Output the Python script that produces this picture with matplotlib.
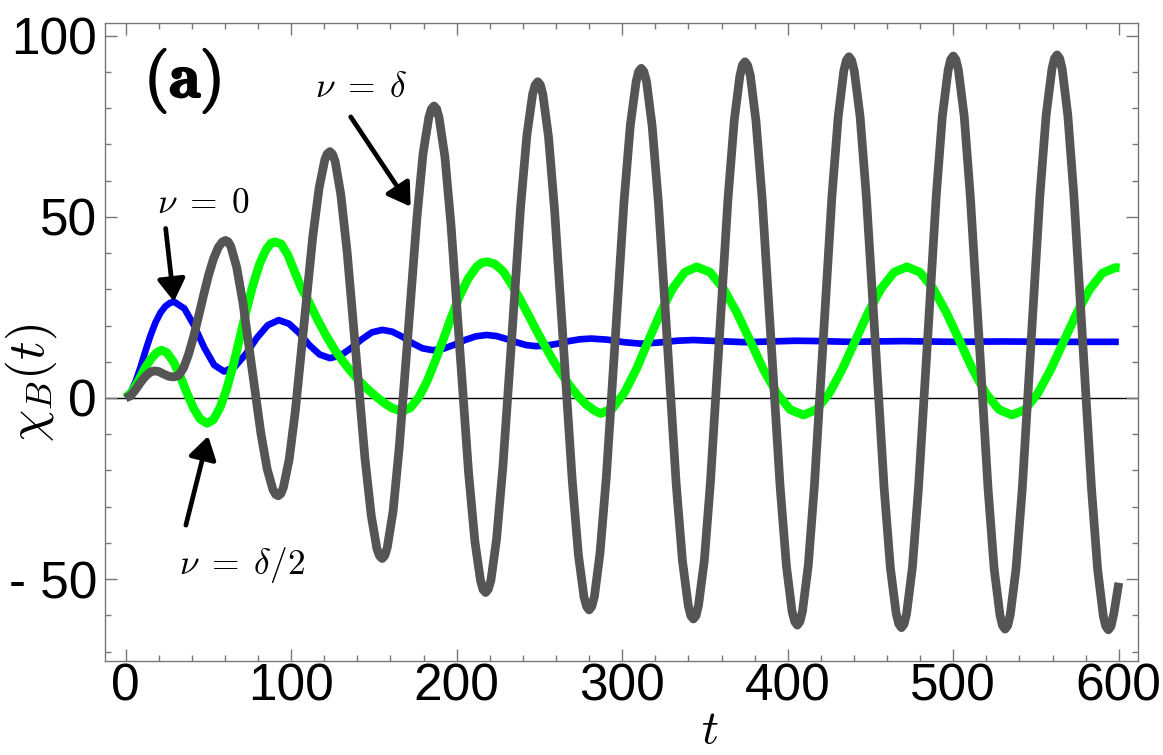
import matplotlib
matplotlib.use("Agg")
import matplotlib.pyplot as plt
from matplotlib.ticker import MultipleLocator, FixedLocator, FixedFormatter
from matplotlib.patches import ArrowStyle
import matplotlib.patheffects as pe

plt.rcParams['mathtext.fontset'] = 'cm'

# ---------------- data ----------------
gray_t = [0, 3, 6, 9, 12, 15, 17.5, 20, 23, 26, 29, 32, 35, 38, 41, 44, 47, 50, 53, 56, 58.5, 60.4,
          62.0, 63.6, 67.1, 70.9, 76.3, 81.7, 85.5, 89.0, 90.6, 92.2,
          93.8, 95.3, 98.8, 102.5, 107.8, 113.1, 116.9, 120.3, 121.8, 123.4,
          125.0, 126.6, 130.0, 133.8, 139.2, 144.6, 148.4, 151.8, 153.4, 155.0,
          156.6, 158.1, 161.6, 165.3, 170.7, 176.0, 179.7, 183.2, 184.7, 186.3,
          187.9, 189.4, 192.9, 196.6, 201.9, 207.2, 211.0, 214.4, 215.9, 217.5,
          219.1, 220.7, 224.1, 227.9, 233.3, 238.6, 242.4, 245.9, 247.4, 249.0,
          250.6, 252.1, 255.5, 259.2, 264.5, 269.8, 273.5, 276.9, 278.5, 280.0,
          281.6, 283.2, 286.6, 290.4, 295.8, 301.1, 304.9, 308.4, 309.9, 311.5,
          313.1, 314.7, 318.1, 321.9, 327.3, 332.6, 336.4, 339.9, 341.4, 343.0,
          344.6, 346.1, 349.6, 353.3, 358.6, 363.9, 367.7, 371.1, 372.6, 374.2,
          375.8, 377.4, 380.8, 384.6, 390.0, 395.4, 399.2, 402.6, 404.2, 405.8,
          407.4, 408.9, 412.4, 416.1, 421.4, 426.7, 430.5, 433.9, 435.4, 437.0,
          438.6, 440.2, 443.7, 447.5, 452.9, 458.2, 462.0, 465.5, 467.1, 468.7,
          470.3, 471.8, 475.3, 479.0, 484.4, 489.7, 493.4, 496.9, 498.4, 500.0,
          501.6, 503.1, 506.6, 510.3, 515.7, 521.0, 524.7, 528.2, 529.7, 531.3,
          532.9, 534.4, 537.9, 541.7, 547.0, 552.3, 556.1, 559.6, 561.1, 562.7,
          564.3, 565.8, 569.2, 572.9, 578.2, 583.5, 587.2, 590.6, 592.1, 593.7,
          595.3, 597.0, 600.0]
gray_y = [0, 0.6, 2.3, 4.3, 6.0, 7.2, 7.5, 7.3, 6.6, 6.0, 5.8, 6.2, 8.3, 12.0, 16.8, 22.4, 28.2, 33.7, 38.3, 41.6, 43.1, 43.5,
          43.1, 41.8, 36.1, 26.2, 8.3, -9.7, -19.6, -25.3, -26.6, -27.0,
          -26.4, -24.7, -17.0, -3.7, 20.5, 44.7, 58.0, 65.7, 67.4, 68.0,
          67.3, 65.3, 56.2, 40.4, 11.9, -16.7, -32.5, -41.6, -43.6, -44.3,
          -43.5, -41.2, -31.2, -13.6, 18.2, 49.9, 67.5, 77.5, 79.8, 80.6,
          79.8, 77.3, 66.5, 47.6, 13.5, -20.7, -39.6, -50.4, -52.9, -53.7,
          -52.8, -50.3, -38.9, -19.1, 16.8, 52.7, 72.5, 83.9, 86.4, 87.3,
          86.4, 83.7, 72.0, 51.5, 14.4, -22.7, -43.2, -54.9, -57.6, -58.5,
          -57.6, -54.8, -42.8, -21.8, 16.3, 54.3, 75.3, 87.3, 90.1, 91.0,
          90.1, 87.3, 75.0, 53.7, 15.0, -23.7, -45.0, -57.3, -60.1, -61.0,
          -60.1, -57.2, -44.9, -23.2, 15.9, 55.0, 76.7, 89.0, 91.9, 92.8,
          91.8, 89.0, 76.5, 54.6, 15.1, -24.5, -46.4, -58.9, -61.7, -62.7,
          -61.7, -58.9, -46.2, -24.2, 15.8, 55.7, 77.7, 90.4, 93.2, 94.2,
          93.2, 90.3, 77.7, 55.5, 15.4, -24.7, -46.9, -59.5, -62.4, -63.4,
          -62.4, -59.5, -46.8, -24.7, 15.5, 55.7, 77.8, 90.5, 93.4, 94.4,
          93.4, 90.5, 77.8, 55.6, 15.3, -25.0, -47.2, -59.9, -62.8, -63.8,
          -62.8, -59.9, -47.2, -24.9, 15.5, 55.8, 78.1, 90.8, 93.7, 94.7,
          93.7, 90.8, 78.0, 55.7, 15.4, -25.0, -47.3, -60.1, -63.0, -64.0,
          -63.0, -59.5, -51.0]

blue_t = [0, 3, 6, 9, 12, 15, 18, 21, 24, 27, 29.5,
          35.5, 41.5, 47.5, 53.5, 59.5,
          66.1, 72.7, 79.3, 85.9, 92.5,
          98.7, 104.9, 111.0, 117.2, 123.4,
          129.7, 136.0, 142.4, 148.7, 155.0,
          161.1, 167.2, 173.3, 179.4, 185.5,
          192.0, 198.5, 205.0, 211.5, 218.0,
          224, 230, 236, 242, 248,
          254.6, 261.2, 267.8, 274.4, 281,
          291, 301, 311, 322, 333, 343, 358, 374, 390, 405, 420, 437, 453, 470, 485, 500, 530, 560, 600]
blue_y = [0, 1.5, 4.5, 8.5, 13.0, 17.2, 20.8, 23.5, 25.3, 26.3, 26.5,
          24.7, 19.9, 13.9, 9.1, 7.3,
          8.7, 12.2, 16.6, 20.1, 21.5,
          20.5, 17.9, 14.6, 12.0, 11.0,
          11.7, 13.7, 16.1, 18.1, 18.8,
          18.3, 16.9, 15.1, 13.7, 13.2,
          13.6, 14.7, 16.0, 17.0, 17.4,
          17.1, 16.3, 15.4, 14.6, 14.3,
          14.5, 15.0, 15.7, 16.2, 16.4,
          16.1, 15.4, 15.0, 15.3, 15.8, 16.0, 15.7, 15.4, 15.6, 15.8, 15.7, 15.5, 15.6, 15.7, 15.6, 15.5, 15.6, 15.5, 15.5]

green_t = [0, 4, 8, 12, 16, 19, 21.7, 25, 29, 33, 37, 41, 45, 49.3, 53, 57, 61, 65, 69, 73, 77, 81, 85, 88, 90.2,
           94, 98, 102, 106, 111, 116, 121, 126, 131, 136, 141, 146, 151, 156, 161, 167,
           172, 177, 182, 187, 192, 197, 202, 207, 212, 215, 218.5,
           223, 228, 233, 238, 243, 248, 253, 258, 263, 268, 273, 278, 283, 287,
           294.3, 301.5, 308.8, 316, 323.3, 330.5, 337.8, 345,
           353.1, 361.1, 369.2, 377.3, 385.3, 393.4, 401.4, 409.5,
           417.3, 425.1, 432.9, 440.8, 448.6, 456.4, 464.2, 472,
           479.9, 487.9, 495.8, 503.8, 511.7, 519.6, 527.6, 535.5,
           543.3, 551.1, 558.9, 566.8, 574.6, 582.4, 590.2, 598, 600.5]
green_y = [0, 1.8, 5.0, 8.5, 11.2, 12.6, 13.2, 12.5, 9.9, 6.0, 1.4, -2.8, -5.8, -7.0, -6.0, -2.7, 2.4, 9.0, 16.6, 24.3, 31.3, 37.1, 41.1, 42.8, 43.1,
           42.5, 39.5, 35.0, 30.5, 26.3, 21.6, 17.3, 13.5, 10.3, 7.4, 4.8, 2.5, 0.5, -1.3, -2.8, -3.7,
           -2.7, 0.1, 4.5, 10.1, 16.3, 22.6, 28.4, 33.0, 36.2, 37.3, 37.6,
           37.0, 35.0, 31.5, 27.5, 23.2, 18.8, 14.6, 10.6, 6.9, 3.6, 0.7, -1.7, -3.4, -4.3,
           -2.8, 1.6, 8.2, 16.0, 23.7, 30.3, 34.7, 36.2,
           34.7, 30.2, 23.6, 15.8, 7.9, 1.3, -3.2, -4.7,
           -3.2, 1.3, 7.9, 15.8, 23.6, 30.2, 34.7, 36.2,
           34.7, 30.2, 23.6, 15.8, 7.9, 1.3, -3.2, -4.7,
           -3.2, 1.3, 7.9, 15.7, 23.4, 30.0, 34.5, 36.0, 35.9]

x_ticks = [0, 100, 200, 300, 400, 500, 600]
x_tick_labels = ['0', '100', '200', '300', '400', '500', '600']
y_ticks = [-50, 0, 50, 100]
y_tick_labels = ['- 50', '0', '50', '100']

# ---------------- figure ----------------
fig = plt.figure(figsize=(11.63, 7.55), dpi=100)
ax = fig.add_axes([0.0905, 0.1245, 0.8883, 0.845])

line_kw = dict(solid_capstyle='butt', solid_joinstyle='round')
ax.axhline(0, color='black', lw=1.0, zorder=1)
ax.plot(blue_t, blue_y, color='#0000ff', lw=4.8, zorder=2, **line_kw)
ax.plot(green_t, green_y, color='#00ff00', lw=6.3, zorder=3, **line_kw)
ax.plot(gray_t, gray_y, color='#555555', lw=6.3, zorder=4, **line_kw)

ax.set_xlim(-12.3, 611.8)
ax.set_ylim(-72.6, 103.5)

ax.xaxis.set_major_locator(FixedLocator(x_ticks))
ax.xaxis.set_major_formatter(FixedFormatter(x_tick_labels))
ax.xaxis.set_minor_locator(MultipleLocator(20))
ax.yaxis.set_major_locator(FixedLocator(y_ticks))
ax.yaxis.set_major_formatter(FixedFormatter(y_tick_labels))
ax.yaxis.set_minor_locator(MultipleLocator(10))

tick_font = 'Liberation Sans'
ax.tick_params(which='both', direction='in', top=True, right=True, color='#777777', width=1.0)
ax.tick_params(which='major', length=8.5)
ax.tick_params(which='minor', length=4.5)
ax.tick_params(axis='x', which='major', labelsize=37, pad=1)
ax.tick_params(axis='y', which='major', labelsize=37, pad=6)
for lab in ax.get_xticklabels() + ax.get_yticklabels():
    lab.set_fontfamily(tick_font)

for sp in ax.spines.values():
    sp.set_color('#777777')
    sp.set_linewidth(1.0)

ax.set_xlabel(r'$t$', fontsize=34)
ax.xaxis.label.set_va('baseline')
ax.xaxis.set_label_coords(0.585, -0.128)
ax.set_ylabel(r'$\chi_B(t)$', fontsize=37)
ax.yaxis.label.set_va('center')
ax.yaxis.set_label_coords(-0.072, 0.436)

ax.text(0.0747, 0.910, r'$\mathbf{(a)}$', transform=ax.transAxes, fontsize=46,
        ha='center', va='center',
        path_effects=[pe.withStroke(linewidth=1.6, foreground='black')])

arrow = ArrowStyle('-|>', head_length=0.45, head_width=0.28)
ap = dict(arrowstyle=arrow, mutation_scale=30, lw=3.4, color='black', shrinkA=0, shrinkB=0)

ax.text(46.9, 53.7, r'$\nu\;=\;0$', fontsize=25.5, ha='center', va='center')
ax.annotate('', xy=(29.2, 26.6), xytext=(24.2, 46.8), arrowprops=ap)

ax.text(142.6, 85.9, r'$\nu\;=\;\delta$', fontsize=25.5, ha='center', va='center')
ax.annotate('', xy=(172.2, 52.8), xytext=(136.0, 77.6), arrowprops=ap)

ax.text(70.1, -46.1, r'$\nu\;=\;\delta/2$', fontsize=25.5, ha='center', va='center')
ax.annotate('', xy=(49.9, -10.5), xytext=(36.4, -35.1), arrowprops=ap)

fig.savefig('out.png', dpi=100)
